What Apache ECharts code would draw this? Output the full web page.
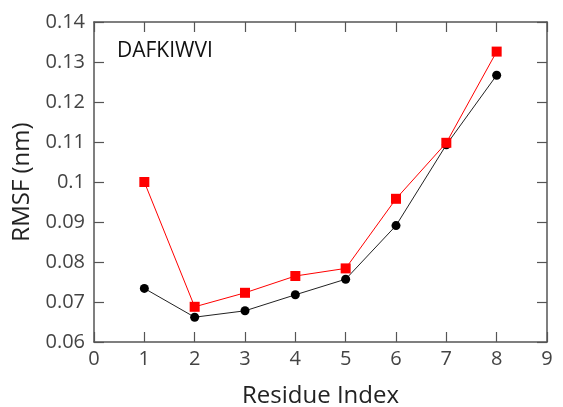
<!DOCTYPE html>
<html>
<head>
<meta charset="utf-8">
<script src="https://cdn.jsdelivr.net/npm/echarts@6/dist/echarts.min.js"></script>
<style>
  html, body { margin: 0; padding: 0; background: #fff; }
  #chart { width: 563px; height: 407px; }
</style>
</head>
<body>
<div id="chart"></div>
<script>
// Residue positions along the peptide
const residues = [1, 2, 3, 4, 5, 6, 7, 8];
// RMSF per residue (nm), two trajectories
const rmsfBlack = [0.0734, 0.0662, 0.0678, 0.0718, 0.0757, 0.0891, 0.1093, 0.1267];
const rmsfRed   = [0.1000, 0.0688, 0.0723, 0.0765, 0.0784, 0.0958, 0.1098, 0.1326];
const peptideLabel = 'DAFKIWVI';

const fontFamily = '"Open Sans", "DejaVu Sans", sans-serif';
const axisGray = '#555';
const pair = (xs, ys) => xs.map((x, i) => [x, ys[i]]);

const chart = echarts.init(document.getElementById('chart'));

const xScale = { type: 'value', min: 0, max: 9, interval: 1 };
const yScale = { type: 'value', min: 0.06, max: 0.14, interval: 0.01 };

// One side of the box frame, ticks pointing into the plot
function side(scale, position, extra) {
  return Object.assign({}, scale, {
    position,
    axisLine: { show: true, onZero: false, lineStyle: { color: axisGray, width: 1.5 } },
    axisTick: { show: true, inside: true, length: 10, lineStyle: { color: axisGray, width: 1.2 } },
    axisLabel: { show: false },
    splitLine: { show: false }
  }, extra || {});
}

chart.setOption({
  animation: false,
  backgroundColor: '#fff',
  grid: { left: 94, right: 16, top: 22, bottom: 65, outerBoundsMode: 'none', containLabel: false },
  title: {
    text: peptideLabel,
    left: 117, top: 41, padding: 0,
    textStyle: { fontFamily, fontSize: 21, fontWeight: 'normal', color: '#111' }
  },
  xAxis: [
    side(xScale, 'bottom', {
      name: 'Residue Index', nameLocation: 'middle', nameGap: 42,
      nameTextStyle: { fontFamily, fontSize: 24, color: '#222' },
      axisLabel: { show: true, fontFamily, fontSize: 20, color: '#444', margin: 7 }
    }),
    side(xScale, 'top')
  ],
  yAxis: [
    side(yScale, 'left', {
      name: 'RMSF (nm)', nameLocation: 'middle', nameGap: 44, nameRotate: 90,
      nameTextStyle: { fontFamily, fontSize: 24, color: '#222' },
      axisLabel: {
        show: true, fontFamily, fontSize: 20, color: '#444', margin: 9,
        formatter: v => String(+v.toFixed(2))
      }
    }),
    side(yScale, 'right')
  ],
  series: [
    {
      type: 'line',
      data: pair(residues, rmsfBlack),
      symbol: 'circle', symbolSize: 9,
      itemStyle: { color: '#000' },
      lineStyle: { color: '#222', width: 1 },
      z: 2
    },
    {
      type: 'line',
      data: pair(residues, rmsfRed),
      symbol: 'rect', symbolSize: 10,
      itemStyle: { color: '#f00' },
      lineStyle: { color: '#f00', width: 1 },
      z: 3
    }
  ]
});
</script>
</body>
</html>
